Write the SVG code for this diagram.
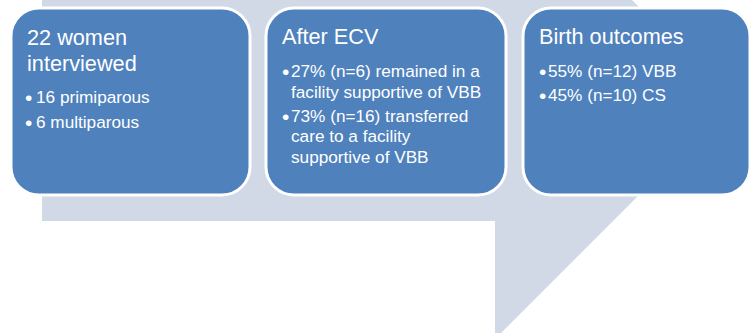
<svg xmlns="http://www.w3.org/2000/svg" width="751" height="333" viewBox="0 0 751 333">
<style>
.box{fill:#4F81BD;stroke:#FFFFFF;stroke-width:3}
.t{font-family:"Liberation Sans",Arial,sans-serif;fill:#FFFFFF}
.h{font-size:21.7px}
.b{font-size:17.2px}
.d{font-size:21px}
</style>
<rect width="751" height="333" fill="#FFFFFF"/>
<g id="background-arrow">
<polygon points="42,-5 627,-5 733,101 496,338 495,338 495,221 42,221" fill="#D1D9E7"/>
</g>
<g id="node-interviewed">
<rect class="box" x="11" y="8" width="239" height="187" rx="28" ry="28"/>
<text class="t h" x="27" y="45">22 women</text>
<text class="t h" x="27" y="71">interviewed</text>
<text class="t d" x="25" y="105">•</text>
<text class="t b" x="36" y="103">16 primiparous</text>
<text class="t d" x="25" y="130">•</text>
<text class="t b" x="36" y="128">6 multiparous</text>
</g>
<g id="node-after-ecv">
<rect class="box" x="266" y="8" width="240" height="187" rx="28" ry="28"/>
<text class="t h" x="282" y="44">After ECV</text>
<text class="t d" x="282" y="79">•</text>
<text class="t b" x="291" y="77">27% (n=6) remained in a</text>
<text class="t b" x="291" y="97.5">facility supportive of VBB</text>
<text class="t d" x="282" y="123.5">•</text>
<text class="t b" x="291" y="121.5">73% (n=16) transferred</text>
<text class="t b" x="291" y="142">care to a facility</text>
<text class="t b" x="291" y="162.5">supportive of VBB</text>
</g>
<g id="node-birth-outcomes">
<rect class="box" x="523" y="8" width="227" height="187" rx="28" ry="28"/>
<text class="t h" x="539" y="44">Birth outcomes</text>
<text class="t d" x="539" y="79">•</text>
<text class="t b" x="548" y="77">55% (n=12) VBB</text>
<text class="t d" x="539" y="103">•</text>
<text class="t b" x="548" y="101">45% (n=10) CS</text>
</g>
<g id="connectors"></g>
</svg>
